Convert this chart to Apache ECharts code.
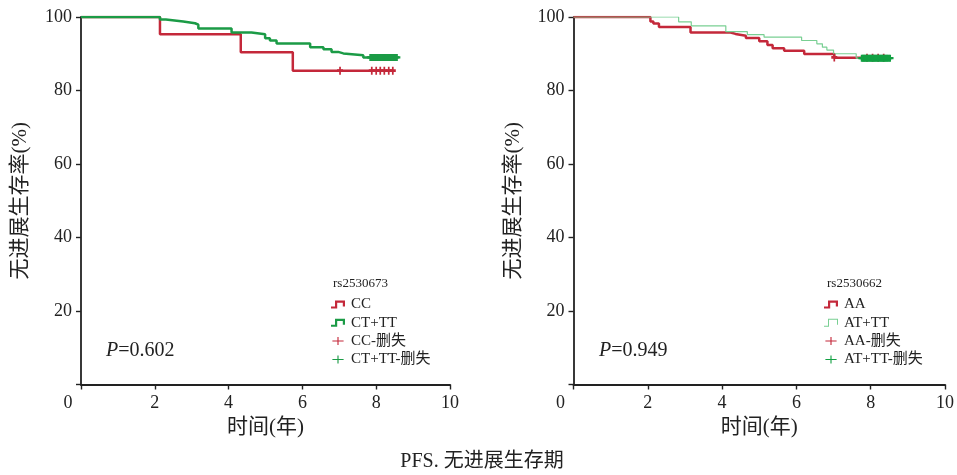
<!DOCTYPE html>
<html>
<head>
<meta charset="utf-8">
<script src="https://cdn.jsdelivr.net/npm/echarts@6/dist/echarts.min.js"></script>
<style>
  html, body { margin: 0; padding: 0; background: #fff; }
  #chart { width: 957px; height: 475px; }
</style>
</head>
<body>
<div id="chart"></div>
<script>
// Kaplan-Meier PFS curves, two SNPs (time in years, survival in %)
const xTicks = [0, 2, 4, 6, 8, 10];
const yTicks = [0, 20, 40, 60, 80, 100];

// rs2530673
const ccCurve = [[0, 100], [2.14, 95.3], [4.33, 90.4], [5.74, 85.4], [8.45, 85.4]];
const ctttCurve = [[0, 100], [2.14, 99.3], [2.30, 98.8], [2.77, 98.3], [3.09, 97.9], [3.18, 96.9],
  [4.08, 95.8], [4.62, 95.3], [4.99, 94.2], [5.12, 93.6], [5.30, 92.8], [6.21, 91.8],
  [6.57, 91.2], [6.79, 90.5], [6.97, 90.1], [7.11, 89.6], [7.65, 89.0], [8.56, 89.0]];
const ccCensor = [[7.02, 85.4], [7.88, 85.4], [8.00, 85.4], [8.11, 85.4], [8.22, 85.4], [8.34, 85.4], [8.45, 85.4]];
const ctttCensor = [[7.84, 89.0], [7.87, 89.0], [7.90, 89.0], [7.93, 89.0], [7.96, 89.0], [7.99, 89.0],
  [8.02, 89.0], [8.05, 89.0], [8.08, 89.0], [8.11, 89.0], [8.14, 89.0], [8.17, 89.0], [8.20, 89.0],
  [8.23, 89.0], [8.26, 89.0], [8.29, 89.0], [8.32, 89.0], [8.35, 89.0], [8.38, 89.0], [8.41, 89.0],
  [8.44, 89.0], [8.47, 89.0], [8.50, 89.0], [8.53, 89.0], [8.56, 89.0]];

// rs2530662
const aaCurve = [[0, 100], [2.07, 98.8], [2.15, 98.2], [2.30, 97.3], [3.15, 95.8], [4.23, 95.4],
  [4.36, 94.9], [4.64, 94.3], [5.00, 93.4], [5.22, 92.4], [5.36, 91.5], [5.67, 90.8],
  [6.21, 89.9], [7.02, 88.9], [8.40, 88.9]];
const atttCurve = [[0, 100], [2.83, 98.7], [3.17, 97.6], [4.10, 96.0], [4.68, 95.2], [5.13, 94.5],
  [6.14, 93.6], [6.55, 92.7], [6.70, 91.8], [6.82, 91.0], [7.00, 90.0], [7.61, 88.8], [8.52, 88.8]];
const aaCensor = [[7.02, 89.0], [7.90, 88.9], [8.05, 88.9], [8.20, 88.9], [8.35, 88.9]];
const atttCensor = [[7.76, 88.8], [7.79, 88.8], [7.82, 88.8], [7.85, 88.8], [7.88, 88.8], [7.91, 88.8],
  [7.94, 88.8], [7.97, 88.8], [8.00, 88.8], [8.03, 88.8], [8.06, 88.8], [8.09, 88.8], [8.12, 88.8],
  [8.15, 88.8], [8.18, 88.8], [8.21, 88.8], [8.24, 88.8], [8.27, 88.8], [8.30, 88.8], [8.33, 88.8],
  [8.36, 88.8], [8.39, 88.8], [8.42, 88.8], [8.45, 88.8], [8.48, 88.8], [8.52, 88.8]];

const pLeft = '0.602';
const pRight = '0.949';

const FONT = '"Liberation Serif", "Noto Sans CJK SC", serif';
const RED = '#c4283a';
const GREEN = '#1b9b46';
const LIGHT_GREEN = '#79cf93';
const CENSOR_GREEN = '#12a043';

const PLUS = 'path://M6.3,0H7.7V10H6.3Z M0,4.4H14V5.6H0Z';
const PLUS_BOLD = 'path://M5,0H9V12H5Z M0,4H14V8H0Z';
const STEP_THICK = 'path://M0,6H4V0H14V6H11.8V2.2H6.2V8H0Z';
const STEP_THIN = 'path://M0,7H4V0H14V6H13V1H5V8H0Z';

function xAxisFor(gridIndex) {
  return {
    gridIndex, type: 'value', min: 0, max: 10, interval: 2,
    name: '时间(年)', nameLocation: 'middle', nameGap: 30,
    nameTextStyle: { fontFamily: FONT, fontSize: 21, color: '#222' },
    axisLine: { lineStyle: { color: '#222', width: 1.8 } },
    axisTick: { length: 5, lineStyle: { color: '#222', width: 1.4 } },
    axisLabel: {
      margin: 10, fontFamily: FONT, fontSize: 18, color: '#222',
      formatter: v => (v === 0 ? '{z|0}' : String(v)),
      rich: { z: { fontFamily: FONT, fontSize: 18, color: '#222', padding: [0, 26, 0, 0] } }
    },
    splitLine: { show: false }
  };
}

function yAxisFor(gridIndex) {
  return {
    gridIndex, type: 'value', min: 0, max: 100, interval: 20,
    name: '无进展生存率(%)', nameLocation: 'middle', nameGap: 50, nameRotate: 90,
    nameTextStyle: { fontFamily: FONT, fontSize: 21, color: '#222' },
    axisLine: { lineStyle: { color: '#222', width: 1.8 } },
    axisTick: { length: 5, lineStyle: { color: '#222', width: 1.4 } },
    axisLabel: {
      margin: 9, fontFamily: FONT, fontSize: 18, color: '#222',
      formatter: v => (v === 0 ? '' : String(v))
    },
    splitLine: { show: false }
  };
}

function curve(name, data, idx, color, width) {
  return {
    name, type: 'line', step: 'end', data, xAxisIndex: idx, yAxisIndex: idx,
    showSymbol: false, symbol: 'none', silent: true,
    itemStyle: { color }, lineStyle: { color, width }, z: 3
  };
}

function censor(name, data, idx, color, size) {
  return {
    name, type: 'scatter', data, xAxisIndex: idx, yAxisIndex: idx,
    symbol: PLUS_BOLD, symbolSize: size, silent: true,
    itemStyle: { color, opacity: 1 }, z: 4
  };
}

function legendFor(left, items) {
  return {
    orient: 'vertical', left, top: 297, padding: 0, itemWidth: 16, itemHeight: 8, itemGap: 3.3,
    selectedMode: false,
    textStyle: { fontFamily: FONT, fontSize: 15, color: '#222', lineHeight: 15 },
    data: items
  };
}

const pText = (left, value) => ({
  type: 'text', left, top: 341,
  style: {
    text: '{i|P}=' + value, font: '20px ' + FONT, fill: '#222',
    rich: { i: { fontStyle: 'italic', fontFamily: FONT, fontSize: 20, fill: '#222' } }
  }
});

const chart = echarts.init(document.getElementById('chart'), null, { renderer: 'canvas' });
chart.setOption({
  animation: false,
  backgroundColor: '#fff',
  grid: [
    { left: 81, top: 17, width: 369, height: 367.5 },
    { left: 573.5, top: 17, width: 371.5, height: 367.5 }
  ],
  xAxis: [xAxisFor(0), xAxisFor(1)],
  yAxis: [yAxisFor(0), yAxisFor(1)],
  legend: [
    legendFor(331, [
      { name: 'CC', icon: STEP_THICK },
      { name: 'CT+TT', icon: STEP_THICK },
      { name: 'CC-删失', icon: PLUS },
      { name: 'CT+TT-删失', icon: PLUS }
    ]),
    legendFor(824, [
      { name: 'AA', icon: STEP_THICK },
      { name: 'AT+TT', icon: STEP_THIN },
      { name: 'AA-删失', icon: PLUS },
      { name: 'AT+TT-删失', icon: PLUS }
    ])
  ],
  graphic: [
    { type: 'text', left: 333, top: 277, style: { text: 'rs2530673', font: '13px ' + FONT, fill: '#222' } },
    { type: 'text', left: 827, top: 277, style: { text: 'rs2530662', font: '13px ' + FONT, fill: '#222' } },
    pText(106, pLeft),
    pText(599, pRight),
    {
      type: 'text', x: 482, y: 462,
      style: { text: 'PFS. 无进展生存期', font: '20px ' + FONT, fill: '#222', align: 'center', verticalAlign: 'middle' }
    }
  ],
  series: [
    curve('CC', ccCurve, 0, RED, 2.5),
    curve('CT+TT', ctttCurve, 0, GREEN, 2.5),
    censor('CC-删失', ccCensor, 0, RED, [6, 8]),
    censor('CT+TT-删失', ctttCensor, 0, GREEN, [7, 7]),
    curve('AA', aaCurve, 1, RED, 2.5),
    curve('AT+TT', atttCurve, 1, LIGHT_GREEN, 1.2),
    censor('AA-删失', aaCensor, 1, RED, [6, 8]),
    censor('AT+TT-删失', atttCensor, 1, CENSOR_GREEN, [7, 7])
  ]
});
</script>
</body>
</html>
